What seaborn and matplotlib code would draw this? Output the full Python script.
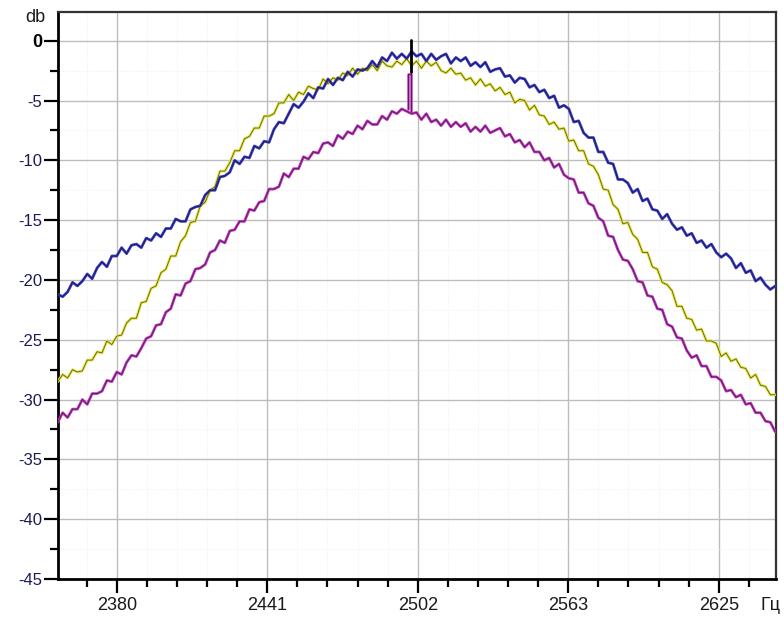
import numpy as np
import pandas as pd
import matplotlib
matplotlib.use("Agg")
import matplotlib.pyplot as plt
from matplotlib import font_manager as fm
from matplotlib.ticker import FixedLocator
import seaborn as sns

# ---------------- data ----------------
freq = np.arange(2356, 2649, 2)  # Hz sampling grid

blue = [
    -21.2, -21.4, -21.0, -20.2, -20.5, -20.1, -19.5, -19.9, -19.0, -18.5,
    -18.9, -18.0, -18.0, -17.3, -17.8, -17.1, -17.0, -17.3, -16.5, -16.7,
    -16.1, -16.4, -15.7, -15.7, -14.9, -15.1, -15.1, -14.1, -13.9, -13.8,
    -12.9, -12.5, -12.5, -11.4, -11.3, -11.0, -10.0, -10.3, -9.7, -9.8,
    -8.8, -9.0, -8.4, -8.5, -7.4, -6.8, -6.9, -6.1, -5.3, -5.6,
    -5.1, -4.4, -4.8, -3.9, -4.0, -3.2, -3.7, -3.1, -3.3, -2.6,
    -3.0, -2.4, -2.5, -2.3, -1.7, -2.2, -1.4, -1.7, -1.0, -1.5,
    -1.1, -1.5, -0.9, -1.3, -1.1, -1.7, -1.1, -1.6, -1.3, -1.1,
    -1.9, -1.4, -1.7, -1.4, -2.1, -1.8, -2.2, -1.8, -2.6, -2.4,
    -2.3, -3.0, -2.9, -3.5, -3.1, -3.2, -3.9, -3.7, -4.3, -4.1,
    -4.8, -4.6, -5.6, -5.4, -5.7, -6.8, -6.7, -7.7, -8.1, -8.1,
    -9.3, -9.3, -10.2, -10.3, -11.6, -11.6, -11.9, -12.7, -12.4, -13.4,
    -13.2, -14.1, -14.2, -14.9, -14.5, -15.3, -15.8, -15.6, -16.3, -16.1,
    -16.9, -16.7, -17.3, -17.0, -17.7, -18.1, -17.8, -18.2, -19.0, -18.6,
    -19.4, -19.2, -20.1, -19.8, -20.4, -20.8, -20.5,
]

yellow = [
    -28.5, -27.9, -28.2, -27.5, -27.7, -27.6, -26.7, -26.7, -26.0, -26.1,
    -25.1, -25.4, -24.7, -24.6, -23.6, -23.2, -23.2, -21.9, -21.8, -20.7,
    -20.5, -19.4, -19.1, -18.0, -18.0, -16.8, -16.3, -15.2, -15.1, -13.8,
    -13.5, -12.5, -12.2, -10.9, -10.9, -10.2, -9.2, -9.2, -8.2, -8.0,
    -7.3, -7.3, -6.3, -6.3, -6.1, -5.2, -5.2, -4.5, -5.0, -4.3,
    -4.5, -3.8, -4.0, -4.1, -3.2, -3.6, -3.1, -3.3, -2.7, -2.9,
    -2.3, -2.8, -2.3, -2.5, -2.0, -2.5, -1.7, -2.1, -2.2, -1.7,
    -2.0, -1.5, -2.1, -1.7, -2.3, -1.7, -2.1, -1.8, -2.5, -2.7,
    -2.3, -2.8, -2.7, -3.3, -3.1, -3.7, -3.2, -3.8, -3.6, -4.2,
    -3.9, -4.5, -4.3, -5.2, -4.9, -5.0, -5.8, -5.4, -6.2, -6.3,
    -7.0, -6.8, -7.4, -7.3, -8.4, -8.3, -9.2, -9.2, -10.3, -10.5,
    -11.2, -12.4, -12.5, -13.7, -14.1, -15.3, -15.2, -16.2, -16.6, -17.7,
    -17.7, -18.9, -19.1, -20.2, -20.4, -20.9, -22.2, -22.2, -23.2, -23.3,
    -24.2, -24.1, -25.1, -25.1, -25.3, -26.4, -26.1, -26.8, -26.6, -27.3,
    -27.4, -28.2, -27.9, -28.8, -28.9, -29.6, -29.6,
]

purple = [
    -31.9, -31.1, -31.5, -30.8, -30.8, -30.0, -30.4, -29.5, -29.5, -29.3,
    -28.4, -28.5, -27.7, -27.9, -26.9, -26.3, -26.4, -25.7, -24.9, -24.7,
    -23.8, -23.7, -22.7, -22.4, -21.2, -21.3, -20.3, -20.1, -19.1, -19.0,
    -18.7, -17.7, -17.5, -16.7, -16.9, -15.9, -15.8, -15.1, -15.1, -14.1,
    -14.2, -13.5, -13.4, -12.4, -12.4, -12.2, -11.1, -11.4, -10.7, -10.7,
    -9.7, -9.9, -9.3, -9.4, -8.6, -8.5, -8.8, -7.9, -8.2, -7.6,
    -7.8, -7.1, -7.4, -6.7, -7.0, -7.0, -6.3, -6.6, -5.9, -6.1,
    -5.7, -5.9, -6.1, -6.0, -6.6, -6.1, -6.8, -6.6, -7.1, -6.6,
    -7.2, -6.8, -7.2, -6.9, -7.6, -7.2, -7.6, -7.1, -7.7, -7.5,
    -7.3, -8.0, -7.8, -8.5, -8.3, -8.9, -8.5, -9.3, -9.3, -10.0,
    -9.8, -10.6, -10.3, -11.2, -11.5, -11.6, -12.7, -12.7, -13.6, -13.8,
    -14.8, -15.1, -16.3, -16.4, -17.5, -18.3, -18.4, -19.1, -20.1, -20.2,
    -21.3, -21.4, -22.4, -22.5, -23.7, -23.9, -24.8, -24.9, -25.9, -26.5,
    -26.3, -27.2, -27.2, -28.1, -28.1, -28.4, -29.3, -29.2, -29.8, -29.6,
    -30.4, -30.3, -31.1, -31.1, -31.8, -31.9, -32.7,
]

# narrow carrier spikes at the centre
purple_spike_f = [2498.6, 2498.6, 2499.9, 2499.9]
purple_spike_v = [-5.7, -2.8, -2.8, -6.0]
black_spike_f = [2499.9, 2499.9]
black_spike_v = [-2.6, 0.1]

x_ticks = [2380, 2441.25, 2502.5, 2563.75, 2625]
x_labels = ["2380", "2441", "2502", "2563", "2625"]
y_ticks = [-45, -40, -35, -30, -25, -20, -15, -10, -5, 0]
y_labels = ["-45", "-40", "-35", "-30", "-25", "-20", "-15", "-10", "-5", "0"]

assert len(blue) == len(freq) == len(yellow) == len(purple)

# ---------------- style ----------------
sns.set_style("white")
names = {f.name for f in fm.fontManager.ttflist}
narrow = "Liberation Sans Narrow" if "Liberation Sans Narrow" in names else "Liberation Sans"
plt.rcParams["font.family"] = [narrow, "DejaVu Sans"]

fig = plt.figure(figsize=(7.84, 6.17), dpi=100)
ax = fig.add_axes([58 / 784, 1 - 579 / 617, (776 - 58) / 784, (579 - 12) / 617])

df = pd.DataFrame({"f": freq, "blue": blue, "yellow": yellow, "purple": purple})

series = [
    ("purple", "#b83cb8", "#5a105a"),
    ("yellow", "#e2e24a", "#5a5a00"),
    ("blue", "#3c3cbc", "#14145c"),
]
for name, halo, core in series:
    sns.lineplot(data=df, x="f", y=name, ax=ax, color=halo, lw=2.0, zorder=3)
    sns.lineplot(data=df, x="f", y=name, ax=ax, color=core, lw=0.55, zorder=3.1)

sns.lineplot(x=purple_spike_f, y=purple_spike_v, ax=ax, color="#b83cb8", lw=1.8,
             sort=False, estimator=None, zorder=4)
sns.lineplot(x=purple_spike_f, y=purple_spike_v, ax=ax, color="#5a105a", lw=0.6,
             sort=False, estimator=None, zorder=4.1)
sns.lineplot(x=black_spike_f, y=black_spike_v, ax=ax, color="black", lw=2.0,
             sort=False, estimator=None, zorder=5)

ax.set_xlim(2356.1, 2648.3)
ax.set_ylim(-45, 2.4)
ax.set_xlabel("")
ax.set_ylabel("")

# grid
ax.set_xticks(x_ticks)
ax.set_xticklabels(x_labels)
ax.set_yticks(y_ticks)
ax.set_yticklabels(y_labels)
ax.xaxis.set_minor_locator(FixedLocator([2380 + k * 12.25 for k in range(-1, 23)]))
ax.yaxis.set_minor_locator(FixedLocator([v - 2.5 for v in y_ticks[1:]]))
ax.grid(True, which="major", color="#bdbdbd", lw=1.0, zorder=1)
ax.grid(True, which="minor", color="#ececec", lw=0.6, ls=":", zorder=0.5)
ax.set_axisbelow(True)

# spines
for s in ["left", "bottom"]:
    ax.spines[s].set_color("black")
    ax.spines[s].set_linewidth(2.0)
for s in ["top", "right"]:
    ax.spines[s].set_color("#333333")
    ax.spines[s].set_linewidth(1.6)

ax.tick_params(axis="both", which="major", direction="out", length=10, width=1.6,
               color="black", bottom=True, left=True)
ax.tick_params(axis="both", which="minor", direction="out", length=6, width=1.6,
               color="black", bottom=True, left=True)
ax.tick_params(axis="y", which="major", pad=1.5, labelcolor="#1c1c55", labelsize=12)
ax.tick_params(axis="x", which="major", pad=3, labelcolor="#1a1a1a", labelsize=13)

for lab in ax.get_yticklabels():
    if lab.get_text() == "0":
        lab.set_fontweight("bold")
        lab.set_color("black")
        lab.set_fontsize(13)

fig.text(45 / 784, 1 - 18 / 617, "db", ha="right", va="center", fontsize=13, color="#1a1a1a")
fig.text(760 / 784, 1 - 606 / 617, "Гц", ha="left", va="center", fontsize=13, color="#1a1a1a")

fig.savefig("out.png", dpi=100)
